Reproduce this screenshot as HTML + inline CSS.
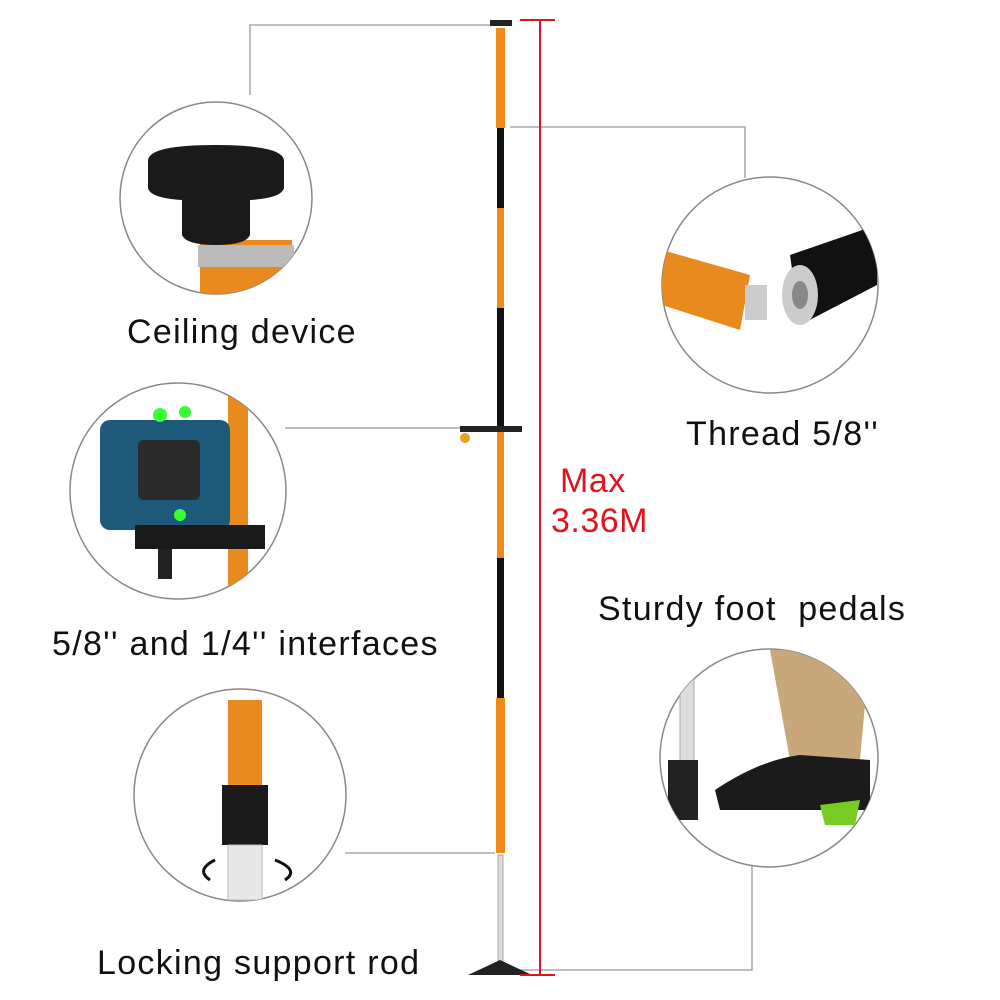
<!DOCTYPE html>
<html><head><meta charset="utf-8"><style>
html,body{margin:0;padding:0;background:#fff;}
body{width:1000px;height:1000px;position:relative;overflow:hidden;font-family:"Liberation Sans",sans-serif;}
.t{position:absolute;font-size:34px;letter-spacing:1.3px;color:#111;white-space:nowrap;}
</style></head><body>
<svg width="1000" height="1000" style="position:absolute;left:0;top:0">
<defs>
<clipPath id="c1"><circle cx="216" cy="198" r="96"/></clipPath>
<clipPath id="c2"><circle cx="178" cy="491" r="108"/></clipPath>
<clipPath id="c3"><circle cx="240" cy="795" r="106"/></clipPath>
<clipPath id="c4"><circle cx="770" cy="285" r="108"/></clipPath>
<clipPath id="c5"><circle cx="769" cy="758" r="109"/></clipPath>
</defs>
<g stroke="#999" stroke-width="1.3" fill="none">
<polyline points="250,95 250,25 490,25"/>
<polyline points="510,127 745,127 745,178"/>
<polyline points="285,428 460,428"/>
<polyline points="345,853 495,853"/>
<polyline points="752,865 752,970 520,970"/>
</g>
<g stroke="#888" stroke-width="1.5" fill="#fff">
<circle cx="216" cy="198" r="96"/>
<circle cx="178" cy="491" r="108"/>
<circle cx="240" cy="795" r="106"/>
<circle cx="770" cy="285" r="108"/>
<circle cx="769" cy="758" r="109"/>
</g>
<g clip-path="url(#c1)">
<rect x="200" y="240" width="92" height="60" fill="#e88a1e"/>
<rect x="198" y="245" width="96" height="22" fill="#bbb"/>
<path d="M148 160 Q150 145 215 145 Q282 145 284 160 L284 188 Q282 198 250 200 L250 235 Q246 245 216 245 Q186 245 182 235 L182 200 Q150 198 148 188 Z" fill="#1a1a1a"/>
</g>
<g clip-path="url(#c2)">
<rect x="228" y="390" width="20" height="210" fill="#e88a1e"/>
<rect x="100" y="420" width="130" height="110" rx="10" fill="#1d5a7a"/>
<rect x="138" y="440" width="62" height="60" rx="6" fill="#2a2a2a"/>
<rect x="135" y="525" width="130" height="24" fill="#1a1a1a"/>
<rect x="158" y="549" width="14" height="30" fill="#222"/>
<circle cx="160" cy="415" r="7" fill="#3f3"/><circle cx="185" cy="412" r="6" fill="#3f3"/><circle cx="180" cy="515" r="6" fill="#3f3"/>
</g>
<g clip-path="url(#c3)">
<rect x="228" y="700" width="34" height="85" fill="#e88a1e"/>
<rect x="222" y="785" width="46" height="60" fill="#1a1a1a"/>
<rect x="228" y="845" width="34" height="55" fill="#e8e8e8" stroke="#bbb"/>
</g>
<path d="M215 860 Q195 870 210 880" stroke="#111" stroke-width="3" fill="none"/>
<path d="M275 860 Q300 870 285 880" stroke="#111" stroke-width="3" fill="none"/>
<g clip-path="url(#c4)">
<path d="M662 250 L750 275 L740 330 L662 305 Z" fill="#e88a1e"/>
<rect x="745" y="285" width="22" height="35" fill="#ccc"/>
<path d="M790 255 L877 225 L877 285 L800 325 Z" fill="#111"/>
<ellipse cx="800" cy="295" rx="18" ry="30" fill="#ccc"/>
<ellipse cx="800" cy="295" rx="8" ry="14" fill="#888"/>
</g>
<g clip-path="url(#c5)">
<rect x="680" y="650" width="14" height="120" fill="#ddd" stroke="#aaa"/>
<path d="M770 650 L870 650 L860 760 L790 760 Z" fill="#c8a77a"/>
<path d="M715 790 Q760 760 800 755 L870 760 L870 810 L720 810 Z" fill="#1b1b1b"/>
<path d="M820 805 L860 800 L855 825 L825 825 Z" fill="#7c2"/>
<rect x="668" y="760" width="30" height="60" fill="#222"/>
</g>
<rect x="496" y="28" width="9" height="100" fill="#f08a1a"/>
<rect x="497" y="128" width="7" height="80" fill="#111"/>
<rect x="497" y="208" width="7" height="100" fill="#f08a1a"/>
<rect x="497" y="308" width="7" height="120" fill="#111"/>
<rect x="497" y="428" width="7" height="130" fill="#f08a1a"/>
<rect x="497" y="558" width="7" height="140" fill="#111"/>
<rect x="496" y="698" width="9" height="155" fill="#f08a1a"/>
<rect x="498" y="855" width="5" height="110" fill="#ddd" stroke="#999" stroke-width="0.8"/>
<rect x="490" y="20" width="22" height="6" fill="#222"/>
<path d="M468 975 L500 960 L532 975 Z" fill="#222"/>
<rect x="460" y="426" width="62" height="6" fill="#222"/>
<circle cx="465" cy="438" r="5" fill="#e8a020"/>
<g stroke="#e0141e" stroke-width="2">
<line x1="540" y1="20" x2="540" y2="975"/>
<line x1="520" y1="20" x2="555" y2="20"/>
<line x1="520" y1="975" x2="555" y2="975"/>
</g>
</svg>
<div class="t" style="left:127px;top:313px;">Ceiling device</div>
<div class="t" style="left:52px;top:625px;">5/8'' and 1/4'' interfaces</div>
<div class="t" style="left:97px;top:944px;">Locking support rod</div>
<div class="t" style="left:686px;top:415px;">Thread 5/8''</div>
<div class="t" style="left:598px;top:590px;">Sturdy foot&nbsp; pedals</div>
<div class="t" style="left:560px;top:462px;color:#e0141e;font-size:34px;letter-spacing:0.5px;">Max</div>
<div class="t" style="left:551px;top:502px;color:#e0141e;font-size:34px;letter-spacing:0.5px;">3.36M</div>
</body></html>
